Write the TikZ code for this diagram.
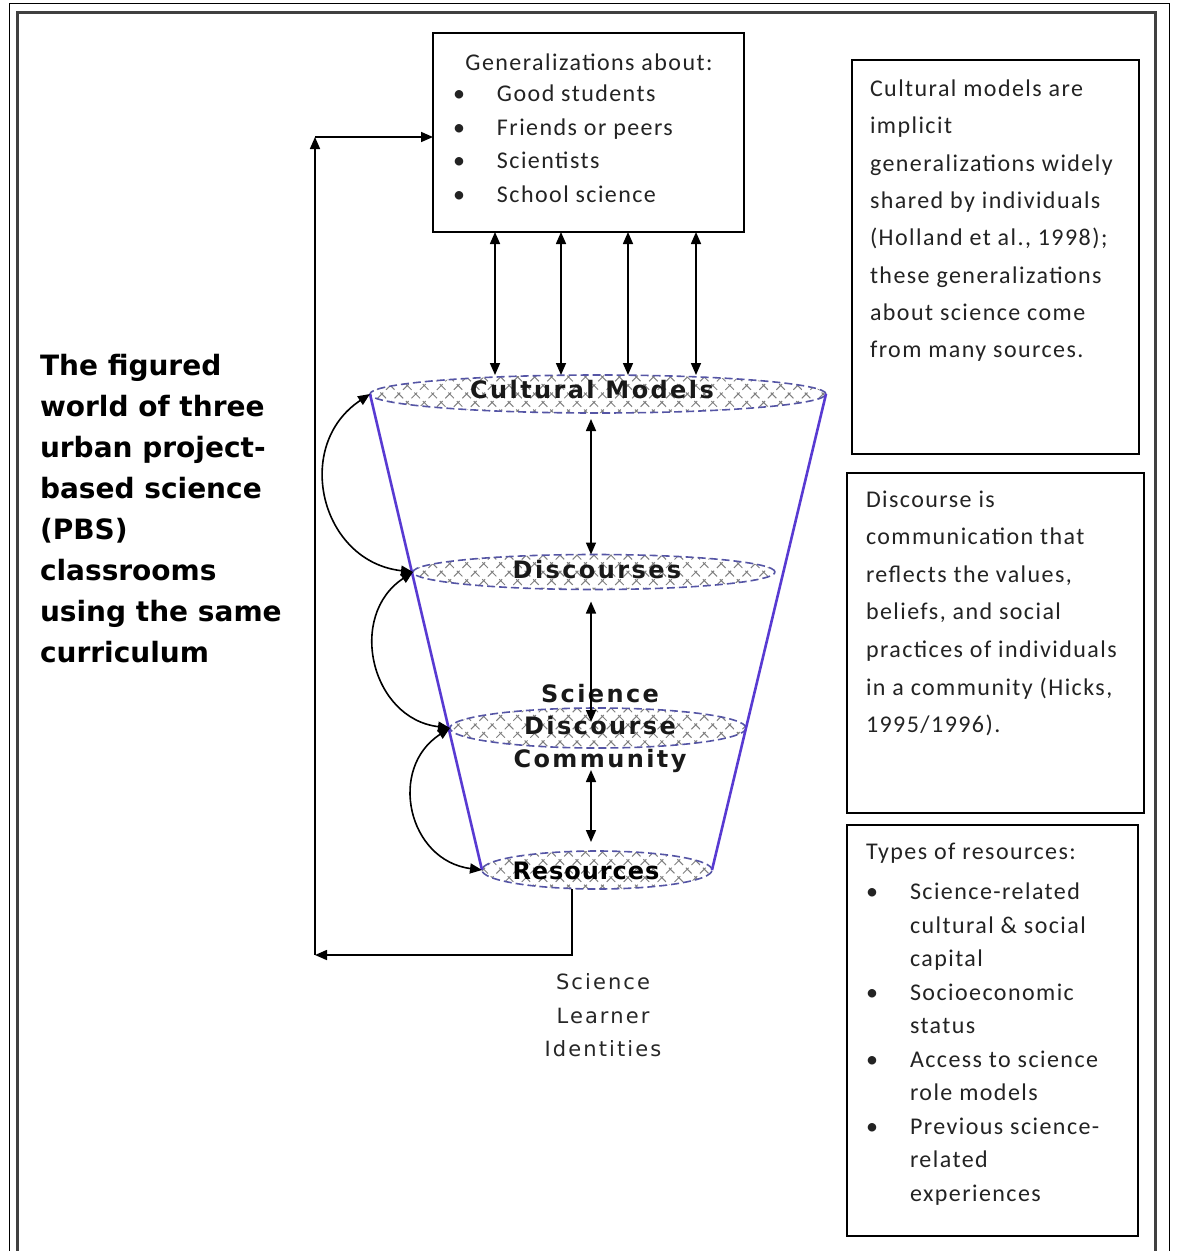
\documentclass[tikz,border=0pt]{standalone}
\usepackage{fontspec}
\setmainfont{Carlito}[LetterSpace=6]
\newfontfamily\titlefont{DejaVu Sans}
\newfontfamily\ringfont{DejaVu Sans}[LetterSpace=10]
\newfontfamily\resfont{DejaVu Sans}[LetterSpace=4]
\newfontfamily\idfont{DejaVu Sans}[LetterSpace=10]
\usetikzlibrary{arrows.meta,shapes.geometric,patterns.meta}

\definecolor{funnelblue}{RGB}{88,58,210}
\definecolor{ringedge}{RGB}{85,85,165}
\definecolor{notegray}{RGB}{35,35,35}

\newcommand{\notefont}[1]{\fontsize{24}{#1}\selectfont}
\newcommand{\bulitem}{\makebox[44pt][l]{\textbullet}}
\newcommand{\bulgap}{\hspace*{44pt}}

\begin{document}
\begin{tikzpicture}[x=1pt,y=-1pt,
  every node/.style={inner sep=0pt,outer sep=0pt},
  panel/.style={draw=black,line width=1.6pt,fill=white},
  ring/.style={ellipse,draw=ringedge,line width=1.6pt,dash pattern=on 8pt off 4pt,
    pattern={Hatch[angle=45,distance=12pt,line width=1pt]},pattern color=black!50},
  ringtext/.style={font=\ringfont\bfseries\fontsize{24}{32.5}\selectfont,text=black!90},
  note/.style={anchor=north west,text=notegray},
  funnelside/.style={draw=funnelblue,line width=2.6pt},
  tip/.style={-{Triangle[length=12pt,width=10pt]},line width=1.6pt},
  twotip/.style={{Triangle[length=12pt,width=10pt]}-{Triangle[length=12pt,width=10pt]},line width=1.6pt}]
  \useasboundingbox (0,0) rectangle (1176,1251);

  % page frame
  \draw[line width=1pt] (9,3) rectangle (1169,1290);
  \draw[black!75,line width=3pt] (17,12) rectangle (1155,1290);

  % title on the left
  \node[anchor=north west,font=\titlefont\bfseries\fontsize{28}{41}\selectfont] (title) at (40,346.3)
    {\begin{tabular}{@{}l@{}}The figured\\world of three\\urban project-\\based science\\(PBS)\\classrooms\\using the same\\curriculum\end{tabular}};

  % generalizations box
  \node[panel,minimum width=311pt,minimum height=199pt] (genbox) at (588.5,132.5) {};
  \node[anchor=base,text=notegray,font=\notefont{33.5}] (genhead) at (589,70) {Generalizations about:};
  \node[note,font=\notefont{33.5}] (genlist) at (453,78.5)
    {\begin{tabular}{@{}l@{}}\bulitem Good students\\ \bulitem Friends or peers\\ \bulitem Scientists\\ \bulitem School science\end{tabular}};

  % the funnel rings
  \node[ring,minimum width=456pt,minimum height=38pt] (cm) at (598,394) {};
  \node[ring,minimum width=362pt,minimum height=35pt] (disc) at (594,572) {};
  \node[ring,minimum width=296pt,minimum height=40pt] (sdc) at (598,728) {};
  \node[ring,minimum width=230pt,minimum height=38pt] (res) at (597,870) {};
  \draw[funnelside] (cm.west) -- (res.west);
  \draw[funnelside] (cm.east) -- (res.east);

  \node[ringtext,anchor=base] (cmlabel) at (592,398) {Cultural Models};
  \node[ringtext,anchor=base] (disclabel) at (597,578) {Discourses};
  \node[ringtext,anchor=north] (sdclabel) at (600,679.3)
    {\begin{tabular}{@{}c@{}}Science\\Discourse\\Community\end{tabular}};
  \node[font=\resfont\bfseries\fontsize{24}{26}\selectfont,anchor=base] (reslabel) at (586,879) {Resources};

  \node[anchor=north,font=\idfont\fontsize{21}{33.5}\selectfont,text=black!85] (ident) at (603,966.5)
    {\begin{tabular}{@{}c@{}}Science\\Learner\\Identities\end{tabular}};

  % notes on the right
  \node[panel,minimum width=287pt,minimum height=394pt] (cmnote) at (995.5,257) {};
  \node[note,font=\notefont{37.3}] (cmtext) at (870,70.4)
    {\begin{tabular}{@{}l@{}}Cultural models are\\implicit\\generalizations widely\\shared by individuals\\(Holland et al., 1998);\\these generalizations\\about science come\\from many sources.\end{tabular}};
  \node[panel,minimum width=297pt,minimum height=340pt] (discnote) at (995.5,643) {};
  \node[note,font=\notefont{37.6}] (disctext) at (866,480.7)
    {\begin{tabular}{@{}l@{}}Discourse is\\communication that\\reflects the values,\\beliefs, and social\\practices of individuals\\in a community (Hicks,\\1995/1996).\end{tabular}};
  \node[panel,minimum width=291pt,minimum height=411pt] (resnote) at (992.5,1030.5) {};
  \node[note,font=\notefont{33.5}] (restext) at (866,836.5)
    {\begin{tabular}{@{}l@{}}Types of resources:\\[6.5pt] \bulitem Science-related\\ \bulgap cultural \& social\\ \bulgap capital\\
     \bulitem Socioeconomic\\ \bulgap status\\ \bulitem Access to science\\ \bulgap role models\\
     \bulitem Previous science-\\ \bulgap related\\ \bulgap experiences\end{tabular}};

  % box to cultural models
  \foreach \x in {495,561,628,696}
    \draw[twotip] (genbox.south -| \x,0) -- (cm.north -| \x,0);

  % central column
  \path (cm.south -| 591,0) ++(0,6) coordinate (cmbot);
  \path (disc.north -| 591,0) coordinate (disctop);
  \path (disc.south -| 591,0) ++(0,12) coordinate (discbot);
  \path (sdc.center -| 591,0) ++(0,-6) coordinate (sdctop);
  \path (sdc.south -| 591,0) ++(0,22) coordinate (sdcbot);
  \path (res.north -| 591,0) ++(0,-9) coordinate (restop);
  \draw[twotip] (cmbot) -- (disctop);
  \draw[twotip] (discbot) -- (sdctop);
  \draw[twotip] (sdcbot) -- (restop);

  % left arcs
  \draw[twotip] (cm.west) to[bend right=70,looseness=1.3] (disc.west);
  \draw[twotip] (disc.west) to[bend right=70,looseness=1.27] (sdc.west);
  \draw[twotip] (sdc.west) to[bend right=70,looseness=1.31] (res.west);

  % feedback loop
  \coordinate (loopbr) at (572,955);
  \coordinate (loopbl) at (315,955);
  \coordinate (looptl) at (315,137);
  \draw[tip] (res.south -| loopbr) -- (loopbr) -- (loopbl);
  \draw[tip] (loopbl) -- (looptl);
  \draw[tip] (looptl) -- (looptl -| genbox.west);
\end{tikzpicture}
\end{document}
